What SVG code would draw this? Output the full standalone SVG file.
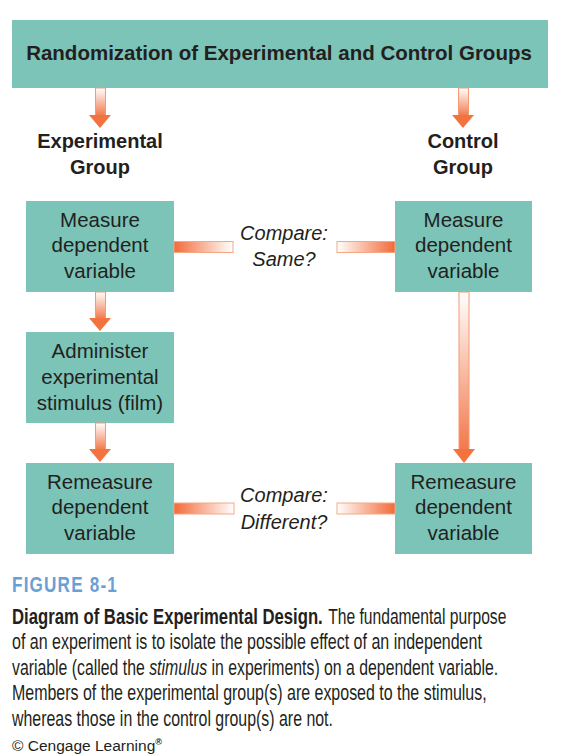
<svg xmlns="http://www.w3.org/2000/svg" width="561" height="756" viewBox="0 0 561 756">
<defs>
<linearGradient id="gv" x1="0" y1="0" x2="0" y2="1">
<stop offset="0" stop-color="#ffffff"/>
<stop offset="1" stop-color="#f2784a"/>
</linearGradient>
<linearGradient id="ghL" x1="0" y1="0" x2="1" y2="0">
<stop offset="0" stop-color="#f26a38"/>
<stop offset="1" stop-color="#ffffff"/>
</linearGradient>
<linearGradient id="ghR" x1="1" y1="0" x2="0" y2="0">
<stop offset="0" stop-color="#f26a38"/>
<stop offset="1" stop-color="#ffffff"/>
</linearGradient>
<style>
.box{fill:#7cc3b8}
.t{font-family:"Liberation Sans",Arial,sans-serif;fill:#231f20;text-anchor:middle}
.tb{font-family:"Liberation Sans",Arial,sans-serif;fill:#231f20;text-anchor:middle;font-weight:bold}
.ti{font-family:"Liberation Sans",Arial,sans-serif;fill:#231f20;text-anchor:middle;font-style:italic;font-size:20px}
.shaft{fill:url(#gv);stroke:#f49a74;stroke-width:1}
.head{fill:#f3733f}
.barL{fill:url(#ghL);stroke:#f6a784;stroke-width:1}
.barR{fill:url(#ghR);stroke:#f6a784;stroke-width:1}
.cap{font-family:"Liberation Sans",Arial,sans-serif;fill:#231f20;font-size:21.5px}
</style>
</defs>

<g id="randomization">
<rect class="box" x="12" y="20" width="536" height="68"/>
<text class="tb" x="279" y="60" font-size="20.5">Randomization of Experimental and Control Groups</text>
</g>

<g id="experimental-group-label">
<text class="tb" x="100" y="148" font-size="20">Experimental</text>
<text class="tb" x="100" y="174" font-size="20">Group</text>
</g>
<g id="control-group-label">
<text class="tb" x="463" y="148" font-size="20">Control</text>
<text class="tb" x="463" y="174" font-size="20">Group</text>
</g>

<g id="measure-exp">
<rect class="box" x="26" y="201" width="148" height="91"/>
<text class="t" font-size="20.5"><tspan x="100" y="227">Measure</tspan><tspan x="100" y="252">dependent</tspan><tspan x="100" y="278">variable</tspan></text>
</g>
<g id="administer">
<rect class="box" x="26" y="332" width="148" height="91"/>
<text class="t" font-size="20.5"><tspan x="100" y="358">Administer</tspan><tspan x="100" y="384">experimental</tspan><tspan x="100" y="410">stimulus (film)</tspan></text>
</g>
<g id="remeasure-exp">
<rect class="box" x="26" y="463" width="148" height="91"/>
<text class="t" font-size="20.5"><tspan x="100" y="489">Remeasure</tspan><tspan x="100" y="514">dependent</tspan><tspan x="100" y="540">variable</tspan></text>
</g>
<g id="measure-ctl">
<rect class="box" x="395" y="201" width="137" height="91"/>
<text class="t" font-size="20.5"><tspan x="463.5" y="227">Measure</tspan><tspan x="463.5" y="252">dependent</tspan><tspan x="463.5" y="278">variable</tspan></text>
</g>
<g id="remeasure-ctl">
<rect class="box" x="395" y="463" width="137" height="91"/>
<text class="t" font-size="20.5"><tspan x="463.5" y="489">Remeasure</tspan><tspan x="463.5" y="514">dependent</tspan><tspan x="463.5" y="540">variable</tspan></text>
</g>

<g id="connectors">
<rect class="shaft" x="95.5" y="88" width="10" height="28"/>
<polygon class="head" points="89,115 111,115 100,128"/>
<rect class="shaft" x="458.5" y="88" width="10" height="28"/>
<polygon class="head" points="452,115 474,115 463,128"/>
<rect class="shaft" x="95.5" y="292" width="10" height="27"/>
<polygon class="head" points="89,318 111,318 100,331"/>
<rect class="shaft" x="95.5" y="423" width="10" height="27"/>
<polygon class="head" points="89,449 111,449 100,462"/>
<rect class="shaft" x="459" y="292" width="10" height="158"/>
<polygon class="head" points="453,449 475,449 464,463"/>
<rect class="barL" x="174" y="241.5" width="59" height="11"/>
<rect class="barR" x="337" y="241.5" width="58" height="11"/>
<rect class="barL" x="174" y="503" width="60" height="11"/>
<rect class="barR" x="337" y="503" width="58" height="11"/>
<text class="ti"><tspan x="284" y="240">Compare:</tspan><tspan x="284" y="266">Same?</tspan></text>
<text class="ti"><tspan x="284" y="502">Compare:</tspan><tspan x="284" y="529">Different?</tspan></text>
</g>

<g id="caption">
<text x="12" y="592" font-family="'Liberation Sans',Arial,sans-serif" font-weight="bold" font-size="22" fill="#6a9fd6" textLength="106" lengthAdjust="spacingAndGlyphs" letter-spacing="1.5">FIGURE 8-1</text>
<g transform="translate(12,0) scale(0.68,1)">
<text class="cap" x="0" y="624" font-weight="bold" textLength="457" lengthAdjust="spacingAndGlyphs">Diagram of Basic Experimental Design.</text>
<text class="cap" x="465" y="624" textLength="262" lengthAdjust="spacingAndGlyphs">The fundamental purpose</text>
<text class="cap" x="0" y="649" textLength="691" lengthAdjust="spacingAndGlyphs">of an experiment is to isolate the possible effect of an independent</text>
<text class="cap" x="0" y="675" textLength="715" lengthAdjust="spacingAndGlyphs">variable (called the <tspan font-style="italic">stimulus</tspan> in experiments) on a dependent variable.</text>
<text class="cap" x="0" y="700" textLength="698" lengthAdjust="spacingAndGlyphs">Members of the experimental group(s) are exposed to the stimulus,</text>
<text class="cap" x="0" y="726" textLength="472" lengthAdjust="spacingAndGlyphs">whereas those in the control group(s) are not.</text>
</g>
<text x="12" y="751" font-family="'Liberation Sans',Arial,sans-serif" font-size="15.5" fill="#231f20">© Cengage Learning<tspan font-size="9" font-weight="bold" dy="-6">®</tspan></text>
</g>
</svg>
